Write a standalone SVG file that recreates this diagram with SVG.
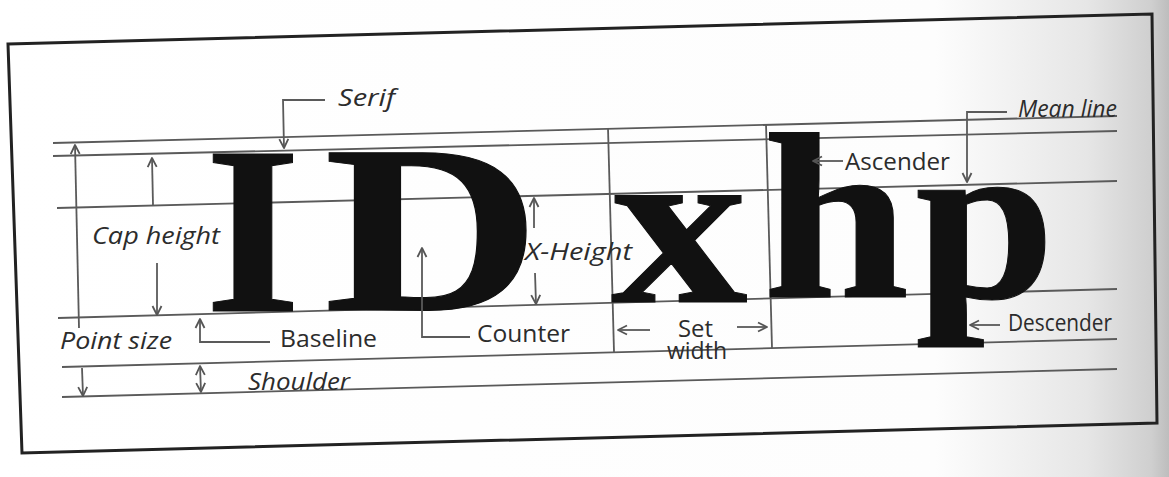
<svg xmlns="http://www.w3.org/2000/svg" width="1169" height="477" viewBox="0 0 1169 477">
<defs>
<linearGradient id="bg" x1="0" y1="0" x2="1" y2="0">
<stop offset="0" stop-color="#ffffff"/>
<stop offset="0.8" stop-color="#fdfdfd"/>
<stop offset="0.93" stop-color="#e6e6e6"/>
<stop offset="0.985" stop-color="#cfcfcf"/>
<stop offset="1" stop-color="#bdbdbd"/>
</linearGradient>
<marker id="ah" viewBox="0 0 12 12" refX="11" refY="6" markerWidth="12" markerHeight="12" markerUnits="userSpaceOnUse" orient="auto-start-reverse">
<path d="M2,1.5 L11,6 L2,10.5" fill="none" stroke="#555" stroke-width="1.8" stroke-linejoin="round"/>
</marker>
<style>
.guide{fill:none;stroke:#5a5a5a;stroke-width:1.8}
.conn{fill:none;stroke:#5a5a5a;stroke-width:1.8;marker-end:url(#ah)}
.both{marker-start:url(#ah)}
.glyph{font-family:"Liberation Serif","Times New Roman",serif;font-weight:bold;fill:#111;stroke:#111;stroke-width:1}
.lbl{font-family:"Open Sans","Liberation Sans",sans-serif;font-size:23px;fill:#2c2c2c}
.it{font-style:italic}
</style>
</defs>
<rect x="0" y="0" width="1169" height="477" fill="url(#bg)"/>
<g id="frame">
<polygon points="8,44 1152,14 1157,423 22,453" fill="none" stroke="#222" stroke-width="3"/>
</g>
<g id="guides">
<line class="guide" x1="53" y1="143" x2="1117" y2="116"/>
<line class="guide" x1="53" y1="156" x2="1117" y2="131"/>
<line class="guide" x1="57" y1="208" x2="1117" y2="181"/>
<line class="guide" x1="58" y1="318" x2="1117" y2="289"/>
<line class="guide" x1="62" y1="367" x2="1117" y2="339"/>
<line class="guide" x1="62" y1="397" x2="1117" y2="369"/>
<line class="guide" x1="608" y1="128" x2="614" y2="352"/>
<line class="guide" x1="766" y1="124" x2="772" y2="348"/>
</g>
<g id="letter-I"><text class="glyph" font-size="239" transform="translate(205,311) scale(1.03,1)">I</text></g>
<g id="letter-D"><text class="glyph" font-size="240" transform="translate(324,310) scale(1.25,1)">D</text></g>
<g id="letter-x"><text class="glyph" font-size="232" transform="translate(611,302) scale(1.18,1)">x</text></g>
<g id="letter-h"><text class="glyph" font-size="237" transform="translate(763,297) scale(1.11,1)">h</text></g>
<g id="letter-p"><text class="glyph" font-size="233" transform="translate(915,297) scale(1.08,1)">p</text></g>
<g id="label-serif"><text class="lbl it" x="338" y="106" textLength="57" lengthAdjust="spacingAndGlyphs">Serif</text></g>
<g id="label-cap-height"><text class="lbl it" x="92" y="244" textLength="128" lengthAdjust="spacingAndGlyphs">Cap height</text></g>
<g id="label-point-size"><text class="lbl it" x="60" y="349" textLength="112" lengthAdjust="spacingAndGlyphs">Point size</text></g>
<g id="label-baseline"><text class="lbl" x="280" y="347" textLength="97" lengthAdjust="spacingAndGlyphs">Baseline</text></g>
<g id="label-shoulder"><text class="lbl it" x="248" y="390" textLength="102" lengthAdjust="spacingAndGlyphs">Shoulder</text></g>
<g id="label-counter"><text class="lbl" x="477" y="342" textLength="93" lengthAdjust="spacingAndGlyphs">Counter</text></g>
<g id="label-x-height"><text class="lbl it" x="525" y="260" textLength="107" lengthAdjust="spacingAndGlyphs">X-Height</text></g>
<g id="label-set-width"><text class="lbl" x="678" y="337" font-size="21" textLength="35" lengthAdjust="spacingAndGlyphs">Set</text><text class="lbl" x="667" y="359" font-size="21" textLength="60" lengthAdjust="spacingAndGlyphs">width</text></g>
<g id="label-ascender"><text class="lbl" x="845" y="170" textLength="105" lengthAdjust="spacingAndGlyphs">Ascender</text></g>
<g id="label-mean-line"><text class="lbl it" x="1018" y="117" textLength="99" lengthAdjust="spacingAndGlyphs">Mean line</text></g>
<g id="label-descender"><text class="lbl" x="1008" y="331" textLength="104" lengthAdjust="spacingAndGlyphs">Descender</text></g>
<g id="connectors">
<path class="conn" d="M79,328 L75,145"/>
<path class="conn" d="M82,368 L83,396"/>
<path class="conn" d="M153,205 L152,158"/>
<path class="conn" d="M157,263 L157,315"/>
<path class="conn" d="M325,100 L283,100 L284,148"/>
<path class="conn" d="M270,342 L200,342 L200,319"/>
<path class="conn both" d="M200,366 L201,392"/>
<path class="conn" d="M470,337 L422,337 L422,248"/>
<path class="conn" d="M534,228 L534,198"/>
<path class="conn" d="M535,273 L536,304"/>
<path class="conn" d="M650,330 L618,330"/>
<path class="conn" d="M737,327 L767,327"/>
<path class="conn" d="M843,161 L813,161"/>
<path class="conn" d="M1007,112 L967,112 L967,182"/>
<path class="conn" d="M1000,325 L970,325"/>
</g>
</svg>
